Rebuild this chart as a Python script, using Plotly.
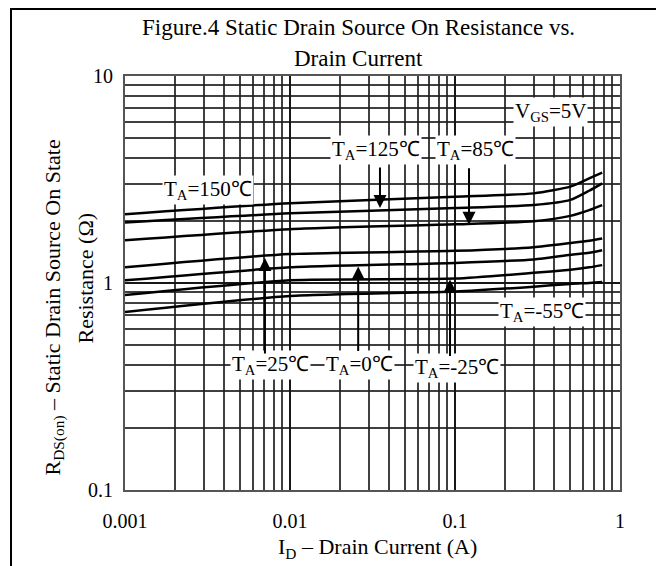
import numpy as np
import plotly.graph_objects as go

# drain current (A) sample points
drain_current = [0.001, 0.01, 0.1, 0.3, 0.5, 0.65, 0.78]

# R_DS(on) (ohm) per ambient temperature
r_150 = [2.15, 2.43, 2.61, 2.71, 2.92, 3.20, 3.41]
r_125 = [1.96, 2.17, 2.30, 2.38, 2.52, 2.79, 3.03]
r_85 = [1.61, 1.82, 1.92, 1.99, 2.11, 2.25, 2.38]
r_25 = [1.19, 1.38, 1.43, 1.49, 1.56, 1.60, 1.64]
r_0 = [1.03, 1.19, 1.25, 1.30, 1.37, 1.40, 1.44]
r_m25 = [0.875, 1.03, 1.05, 1.12, 1.16, 1.19, 1.22]
r_m55 = [0.724, 0.865, 0.91, 0.96, 0.99, 1.00, 1.01]

series = [r_150, r_125, r_85, r_25, r_0, r_m25, r_m55]

x_ticks = [0.001, 0.01, 0.1, 1]
x_tick_text = ["0.001", "0.01", "0.1", "1"]
y_ticks = [0.1, 1, 10]
y_tick_text = ["0.1", "1", "10"]

# text labels: (text, current, resistance)
labels = [
    ("V<sub>GS</sub>=5V", 0.377, 6.7),
    ("T<sub>A</sub>=150℃", 0.00318, 2.81),
    ("T<sub>A</sub>=125℃", 0.0332, 4.39),
    ("T<sub>A</sub>=85℃", 0.134, 4.39),
    ("T<sub>A</sub>=-55℃", 0.336, 0.724),
    ("T<sub>A</sub>=25℃", 0.00757, 0.402),
    ("T<sub>A</sub>=0℃", 0.0262, 0.402),
    ("T<sub>A</sub>=-25℃", 0.1028, 0.388),
]

# arrow tips on curves: (current, resistance, tail offset px)
arrows = [
    (0.0351, 2.30, -42),
    (0.1216, 1.91, -58),
    (0.00705, 1.32, 97),
    (0.0259, 1.20, 86),
    (0.0933, 1.04, 78),
]

SERIF = "Liberation Serif, Times New Roman, serif"

# page has an 8px body margin, so the figure is laid out 8px smaller
W, H = 656, 558
L, T, R, B = 117, 68, 44, 76
PW, PH = W - L - R, H - T - B


def px(x):
    return (x - L) / PW


def py(y):
    return (H - B - y) / PH


fig = go.Figure()
for vals in series:
    fig.add_trace(
        go.Scatter(
            x=drain_current,
            y=vals,
            mode="lines",
            line={"color": "black", "width": 2.5, "shape": "spline", "smoothing": 0.6},
            hoverinfo="skip",
        )
    )

grid_axis = {
    "type": "log",
    "showgrid": True,
    "gridcolor": "rgba(20,20,20,0.9)",
    "gridwidth": 1.8,
    "minor": {"dtick": "D1", "showgrid": True, "gridcolor": "rgba(30,30,30,0.85)", "gridwidth": 1.6},
    "showline": True,
    "linecolor": "#555",
    "linewidth": 2,
    "mirror": True,
    "zeroline": False,
    "ticks": "",
    "tickfont": {"size": 20, "family": SERIF, "color": "black"},
}

fig.update_layout(
    width=W,
    height=H,
    margin={"l": L, "r": R, "t": T, "b": B},
    paper_bgcolor="white",
    plot_bgcolor="white",
    showlegend=False,
    font={"family": SERIF, "color": "black"},
    xaxis={**grid_axis, "range": [-3, 0], "tickvals": x_ticks, "ticktext": x_tick_text, "ticklabelstandoff": 12},
    yaxis={**grid_axis, "range": [-1, 1], "tickvals": y_ticks, "ticktext": y_tick_text, "ticklabelstandoff": 6},
)

for text, cx, cy in labels:
    fig.add_annotation(
        x=np.log10(cx), y=np.log10(cy), text=text, showarrow=False,
        bgcolor="white", borderpad=1, font={"size": 21, "family": SERIF, "color": "black"},
    )

for cx, cy, off in arrows:
    fig.add_annotation(
        x=np.log10(cx), y=np.log10(cy), text="", showarrow=True,
        ax=0, ay=off, arrowhead=2, arrowsize=1.3, arrowwidth=2, arrowcolor="black",
    )

# title lines
fig.add_annotation(xref="paper", yref="paper", x=px(350), y=py(20), yanchor="middle",
                   text="Figure.4 Static Drain Source On Resistance vs.", showarrow=False,
                   font={"size": 23, "family": SERIF})
fig.add_annotation(xref="paper", yref="paper", x=px(350), y=py(50), yanchor="middle",
                   text="Drain Current", showarrow=False, font={"size": 23, "family": SERIF})

# axis titles
fig.add_annotation(xref="paper", yref="paper", x=px(29), y=py(300), textangle=-90,
                   text="R<sub>DS(on)</sub> – Static Drain Source On State", showarrow=False,
                   font={"size": 22, "family": SERIF})
fig.add_annotation(xref="paper", yref="paper", x=px(62), y=py(270), textangle=-90,
                   text="Resistance (Ω)", showarrow=False, font={"size": 22, "family": SERIF})
fig.add_annotation(xref="paper", yref="paper", x=px(369), y=py(540),
                   yanchor="middle", text="I<sub>D</sub> – Drain Current (A)", showarrow=False,
                   font={"size": 22, "family": SERIF})

# outer frame
fig.add_shape(type="rect", xref="paper", yref="paper",
              x0=px(3), x1=px(650), y0=py(570), y1=py(1),
              line={"color": "black", "width": 2}, layer="below")

fig.write_html("out.html")
